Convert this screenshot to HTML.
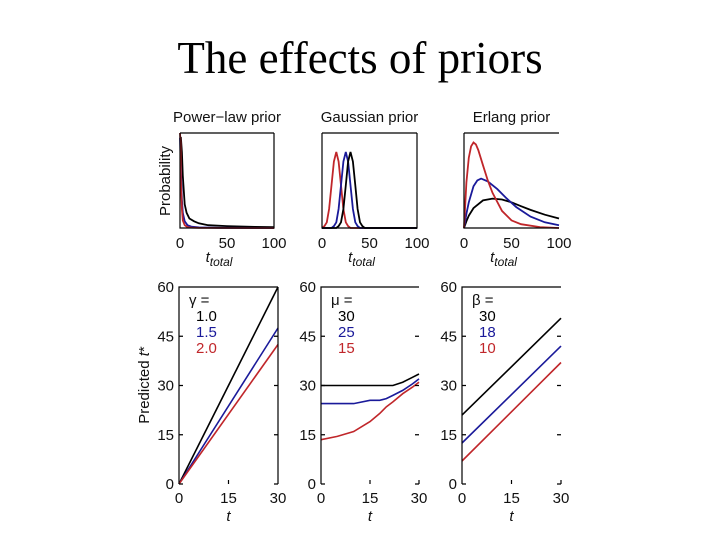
<!DOCTYPE html>
<html><head><meta charset="utf-8"><style>
html,body{margin:0;padding:0;background:#fff}
svg{display:block}
.t{font-family:"Liberation Sans",sans-serif;font-size:15px;fill:#111}
</style></head><body>
<svg id="c" width="720" height="540" xmlns="http://www.w3.org/2000/svg">
<text x="360" y="73" text-anchor="middle" font-family="Liberation Serif, serif" font-size="45" fill="#000">The effects of priors</text>
</svg>
<script>
// ---- Prior panels (x: t_total 0..100, y: relative probability 0..1) ----
const priorTitles = ["Power\u2212law prior","Gaussian prior","Erlang prior"];
const priorXTicks = [0,50,100];
const plBlackX = [0,1,2,3,5,7,10,15,20,30,50,80,100];
const plBlackY = [0.95,0.95,0.8,0.55,0.25,0.16,0.1,0.07,0.05,0.03,0.02,0.012,0.01];
const plBlueX = [0,1,2,3,5,8,12,20,40,100];
const plBlueY = [0.95,0.6,0.3,0.16,0.07,0.03,0.015,0.006,0.002,0];
const plRedX = [0,0.5,1,2,3,5,8,12,20,100];
const plRedY = [1.0,0.9,0.5,0.2,0.08,0.03,0.01,0.004,0.001,0];
const gRedX = [0,2.5,5,7.5,10,12.5,15,17.5,20,22.5,25,27.5,30,100];
const gRedY = [0,0.02,0.06,0.2,0.45,0.7,0.8,0.7,0.45,0.2,0.06,0.02,0,0];
const gBlueX = [0,10,12.5,15,17.5,20,22.5,25,27.5,30,32.5,35,37.5,40,100];
const gBlueY = [0,0,0.02,0.06,0.2,0.45,0.7,0.8,0.7,0.45,0.2,0.06,0.02,0,0];
const gBlackX = [0,15,17.5,20,22.5,25,27.5,30,32.5,35,37.5,40,42.5,45,100];
const gBlackY = [0,0,0.02,0.06,0.2,0.45,0.7,0.8,0.7,0.45,0.2,0.06,0.02,0,0];
const eRedX = [0,2.5,5,7.5,10,12.5,15,20,25,30,40,50,60,80,100];
const eRedY = [0,0.48,0.74,0.86,0.9,0.88,0.82,0.66,0.5,0.37,0.18,0.08,0.04,0.01,0];
const eBlueX = [0,2.5,5,10,14,18,25,35,45,55,70,85,100];
const eBlueY = [0,0.15,0.27,0.44,0.5,0.52,0.49,0.41,0.31,0.22,0.12,0.06,0.03];
const eBlackX = [0,2.5,5,10,20,30,40,50,60,70,85,100];
const eBlackY = [0,0.07,0.13,0.21,0.29,0.31,0.3,0.27,0.23,0.19,0.14,0.1];
// ---- Prediction panels (x: t 0..30, y: predicted t* 0..60) ----
const predXTicks = [0,15,30];
const predYTicks = [0,15,30,45,60];
const legendHeads = ["\u03b3 =","\u03bc =","\u03b2 ="];
const legendVals = [["1.0","1.5","2.0"],["30","25","15"],["30","18","10"]];
const p1X = [0,30];
const p1Black = [0,60];
const p1Blue = [0,47.5];
const p1Red = [0,42.5];
const p2X = [0,5,10,15,18,20,22,25,28,30];
const p2Black = [30,30,30,30,30,30,30,31,32.5,33.5];
const p2Blue = [24.5,24.5,24.5,25.5,25.5,26,27,28.5,30.5,32];
const p2Red = [13.5,14.5,16,19,21.5,23.5,25,27.5,29.5,31];
const p3X = [0,30];
const p3Black = [21,50.5];
const p3Blue = [12.5,42];
const p3Red = [7,37];

const svg = document.getElementById('c');
const NS = "http://www.w3.org/2000/svg";
const COL = {black:"#000",blue:"#1a1a9a",red:"#c0262a"};
function mk(tag, attrs, parent){const e=document.createElementNS(NS,tag);for(const k in attrs)e.setAttribute(k,attrs[k]);(parent||svg).appendChild(e);return e;}

const topBoxes = [[180,274],[322,417],[464,559]];
const topY0 = 228, topY1 = 133;
const priorSeries = [
  [[plBlackX,plBlackY,'black'],[plBlueX,plBlueY,'blue'],[plRedX,plRedY,'red']],
  [[gRedX,gRedY,'red'],[gBlueX,gBlueY,'blue'],[gBlackX,gBlackY,'black']],
  [[eBlackX,eBlackY,'black'],[eBlueX,eBlueY,'blue'],[eRedX,eRedY,'red']]
];
topBoxes.forEach((b,i)=>{
  const g = mk('g',{});
  
  
  const sx = v=> b[0]+(b[1]-b[0])*v/100;
  const sy = v=> topY0-(topY0-topY1)*v;
  const t = mk('text',{x:(b[0]+b[1])/2,y:122,'text-anchor':'middle',class:'t','font-size':'15.5'},g);
  t.textContent = priorTitles[i];
  
  
  priorSeries[i].forEach(s=>{
    const pts = s[0].map((x,k)=>sx(x).toFixed(1)+','+sy(s[1][k]).toFixed(1)).join(' ');
    const l = mk('polyline',{points:pts,fill:'none',stroke:COL[s[2]],'stroke-width':1.8},g);
    
    
  });
  const box = mk('path',{d:`M${b[0]},${topY1}V${topY0}H${b[1]}${i<2?'V'+topY1:''}M${b[0]},${topY1}H${b[1]}`,fill:'none',stroke:'#000','stroke-width':1.2},g);
  
  
  priorXTicks.forEach(v=>{
    const tt = mk('text',{x:sx(v),y:248,'text-anchor':'middle',class:'t'},g);
    tt.textContent = v;
    
    
  });
  const xl = mk('text',{x:(b[0]+b[1])/2-8,y:262,'text-anchor':'middle',class:'t','font-style':'italic'},g);
  xl.innerHTML = 't<tspan font-size="12" dy="4">total</tspan>';
  
  
});
const py = mk('text',{x:0,y:0,class:'t','text-anchor':'middle',transform:'translate(170,181) rotate(-90)'});
py.textContent = 'Probability';



const botBoxes = [[179,278],[321,419],[462,561]];
const bY0 = 484, bY1 = 287;
const predSeries = [
  [[p1X,p1Black,'black'],[p1X,p1Blue,'blue'],[p1X,p1Red,'red']],
  [[p2X,p2Black,'black'],[p2X,p2Blue,'blue'],[p2X,p2Red,'red']],
  [[p3X,p3Black,'black'],[p3X,p3Blue,'blue'],[p3X,p3Red,'red']]
];
botBoxes.forEach((b,i)=>{
  const g = mk('g',{});
  
  
  const sx = v=> b[0]+(b[1]-b[0])*v/30;
  const sy = v=> bY0-(bY0-bY1)*v/60;
  predSeries[i].forEach(s=>{
    const pts = s[0].map((x,k)=>sx(x).toFixed(1)+','+sy(s[1][k]).toFixed(1)).join(' ');
    const l = mk('polyline',{points:pts,fill:'none',stroke:COL[s[2]],'stroke-width':1.6},g);
    
    
  });
  let d = `M${b[1]},${bY1}H${b[0]}V${bY0}`;
  if(i===0) d += `M${b[1]},${bY1}V${bY0}`;
  predYTicks.forEach(v=>{ d += `M${b[0]},${sy(v)}h4M${b[1]},${sy(v)}h-4`; });
  predXTicks.forEach(v=>{ d += `M${sx(v)},${bY0}v-4`; });
  const ax = mk('path',{d:d,fill:'none',stroke:'#000','stroke-width':1.2},g);
  
  
  predYTicks.forEach(v=>{
    const tt = mk('text',{x:b[0]-5,y:sy(v)+5,'text-anchor':'end',class:'t'},g);
    tt.textContent = v;
    
    
  });
  predXTicks.forEach(v=>{
    const tt = mk('text',{x:sx(v),y:503,'text-anchor':'middle',class:'t'},g);
    tt.textContent = v;
    
    
  });
  const xl = mk('text',{x:(b[0]+b[1])/2,y:521,'text-anchor':'middle',class:'t','font-style':'italic'},g);
  xl.textContent = 't';
  
  
  const lh = mk('text',{x:b[0]+10,y:305,class:'t'},g);
  lh.textContent = legendHeads[i];
  
  
  ['black','blue','red'].forEach((c,k)=>{
    const le = mk('text',{x:b[0]+17,y:321+k*16,class:'t'},g);
    le.style.fill = COL[c];
    le.textContent = legendVals[i][k];
    
    
  });
});
const pyt = mk('text',{x:0,y:0,class:'t','text-anchor':'middle',transform:'translate(149,385) rotate(-90)'});
pyt.innerHTML = 'Predicted <tspan font-style="italic">t</tspan>*';


</script>
</body></html>
